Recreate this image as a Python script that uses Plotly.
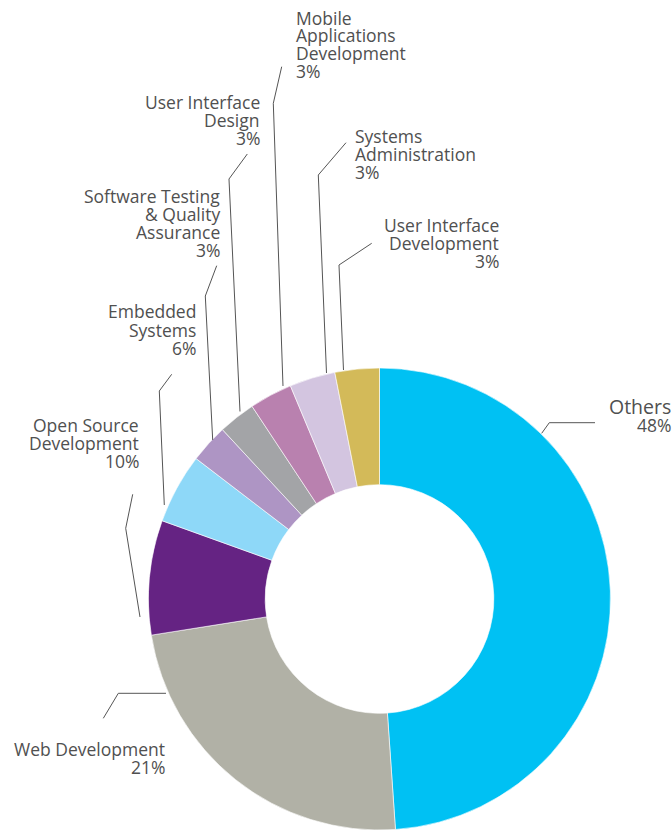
import plotly.graph_objects as go

# ---- data ----
categories = [
    "Others",
    "Web Development",
    "Open Source Development",
    "Embedded Systems",
    "Software Testing & Quality Assurance",
    "User Interface Design",
    "Mobile Applications Development",
    "Systems Administration",
    "User Interface Development",
]
# slice sizes as drawn (percent of the ring)
slice_values = [48.9, 23.6, 8.0, 4.9, 2.7, 2.6, 3.0, 3.2, 3.1]
# percentages printed in the labels
label_pcts = [48, 21, 10, 6, 3, 3, 3, 3, 3]
# label text, wrapped as in the picture
label_lines = [
    ["Others"],
    ["Web Development"],
    ["Open Source", "Development"],
    ["Embedded", "Systems"],
    ["Software Testing", "& Quality", "Assurance"],
    ["User Interface", "Design"],
    ["Mobile", "Applications", "Development"],
    ["Systems", "Administration"],
    ["User Interface", "Development"],
]
colors = ["#00C1F3", "#B1B1A6", "#652383", "#8ED8F8", "#AE95C4",
          "#A3A4A7", "#B981AF", "#D3C5E0", "#D3BA59"]

# ---- layout / styling (pixels of the 672x830 page) ----
W, H = 672, 830
CX, CY, R = 379.5, 599.0, 231.0
HOLE = 0.495
TEXT_COLOR = "#505050"
LINE_COLOR = "#555555"
FONT = "Open Sans"
FS = 17.5

# label placement: (x, align, first baseline, pitch, fontsize of name)
label_pos = [
    (670.5, "right", 414.0, 17.7, 19.5),
    (165.0, "right", 755.7, 17.7, FS),
    (138.5, "right", 432.3, 17.9, FS),
    (195.5, "right", 318.3, 18.3, FS),
    (220.0, "right", 203.0, 17.8, FS),
    (259.5, "right", 108.7, 18.0, FS),
    (295.5, "left", 24.5, 17.7, FS),
    (355.0, "left", 142.7, 18.3, FS),
    (498.5, "right", 231.7, 18.3, FS),
]
# leader lines (polyline points in page pixels)
leaders = [
    [(541.7, 433.3), (549.3, 422.7), (595.0, 422.7)],
    [(166.0, 693.3), (118.3, 693.3), (103.3, 718.3)],
    [(140.0, 617.0), (125.7, 528.3), (132.7, 494.3)],
    [(164.3, 505.0), (159.3, 391.0), (171.7, 374.3)],
    [(212.7, 440.0), (205.3, 296.0), (216.7, 265.7)],
    [(240.0, 411.5), (229.0, 179.0), (247.3, 154.0)],
    [(283.0, 386.0), (273.3, 103.3), (281.7, 66.7)],
    [(326.5, 373.0), (318.3, 175.0), (346.0, 142.7)],
    [(343.5, 370.0), (339.0, 265.0), (371.7, 243.3)],
]


def px(x):
    return x / W


def py(y):
    return 1 - y / H


fig = go.Figure()
fig.add_trace(go.Pie(
    labels=categories,
    values=slice_values,
    sort=False,
    direction="clockwise",
    rotation=0,
    hole=HOLE,
    marker=dict(colors=colors, line=dict(color="#ffffff", width=0.6)),
    textinfo="none",
    hoverinfo="label+percent",
    showlegend=False,
    domain=dict(x=[px(CX - R), px(CX + R)], y=[py(CY + R), py(CY - R)]),
))

annotations = []
for lines, pct, (x, align, base, pitch, fs) in zip(label_lines, label_pcts, label_pos):
    all_lines = lines + [f"{pct}%"]
    for i, t in enumerate(all_lines):
        size = fs if i < len(lines) else FS
        b = base + i * pitch
        yc = b - 0.39 * size
        annotations.append(dict(
            x=px(x), y=py(yc), xref="paper", yref="paper",
            text=t, showarrow=False,
            xanchor=align, yanchor="middle", align=align,
            font=dict(family=FONT, size=size, color=TEXT_COLOR),
            borderpad=0, borderwidth=0,
        ))

shapes = []
for pts in leaders:
    path = "M " + " L ".join(f"{px(x):.5f},{py(y):.5f}" for x, y in pts)
    shapes.append(dict(type="path", xref="paper", yref="paper", path=path,
                       line=dict(color=LINE_COLOR, width=1)))

fig.update_layout(
    width=W, height=H,
    margin=dict(l=0, r=0, t=0, b=0),
    paper_bgcolor="#ffffff",
    plot_bgcolor="#ffffff",
    annotations=annotations,
    shapes=shapes,
)

fig.write_html(
    "out.html",
    config={"displayModeBar": False},
    post_script="document.body.style.margin='0px';document.body.style.overflow='hidden';",
)
